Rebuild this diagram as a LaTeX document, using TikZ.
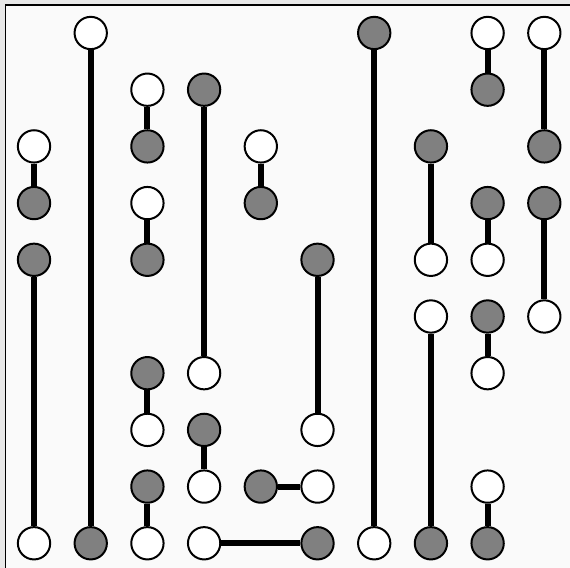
\documentclass[tikz,border=0pt]{standalone}
\definecolor{paper}{RGB}{250,250,250}
\definecolor{margin}{RGB}{232,232,232}
\tikzset{
    open/.style={
        draw,
        circle,
        fill=white,
        line width=1pt,
        inner sep=0pt,
        minimum size=.57cm
    },
    full/.style={
        open,
        fill=gray
    }
}
\begin{document}
\begin{tikzpicture}[y=-1cm]
		\useasboundingbox[fill=margin] (-0.6,-0.582) rectangle (9.453,9.436);
		\fill[paper] (-0.503,-0.485) rectangle (9.453,9.436);
		\draw[line width=1pt] (-0.503,9.436) -- (-0.503,-0.485) -- (9.453,-0.485);
		\path
			node[open] at (1,0) (b0) {}
			node[full] at (6,0) (g0) {}
			node[open] at (8,0) (i0) {}
			node[open] at (9,0) (j0) {}
			;
		\path
			node[open] at (2,1) (c1) {}
			node[full] at (3,1) (d1) {}
			node[full] at (8,1) (i1) {}
			;
		\path
			node[open] at (0,2) (a2) {}
			node[full] at (2,2) (c2) {}
			node[open] at (4,2) (e2) {}
			node[full] at (7,2) (h2) {}
			node[full] at (9,2) (j2) {}
			;
		\path
			node[full] at (0,3) (a3) {}
			node[open] at (2,3) (c3) {}
			node[full] at (4,3) (e3) {}
			node[full] at (8,3) (i3) {}
			node[full] at (9,3) (j3) {}
			;
		\path
			node[full] at (0,4) (a4) {}
			node[full] at (2,4) (c4) {}
			node[full] at (5,4) (f4) {}
			node[open] at (7,4) (h4) {}
			node[open] at (8,4) (i4) {}
			;
		\path
			node[open] at (7,5) (h5) {}
			node[full] at (8,5) (i5) {}
			node[open] at (9,5) (j5) {}
			;
		\path
			node[full] at (2,6) (c6) {}
			node[open] at (3,6) (d6) {}
			node[open] at (8,6) (i6) {}
			;
		\path
			node[open] at (2,7) (c7) {}
			node[full] at (3,7) (d7) {}
			node[open] at (5,7) (f7) {}
			;
		\path
			node[full] at (2,8) (c8) {}
			node[open] at (3,8) (d8) {}
			node[full] at (4,8) (e8) {}
			node[open] at (5,8) (f8) {}
			node[open] at (8,8) (i8) {}
			;
		\path 	(0,9)
					node[open](a9){}
			++(1,0) node[full](b9){}
			++(1,0) node[open](c9){}
			++(1,0) node[open](d9){}
			++(2,0) node[full](f9){}
			++(1,0) node[open](g9){}
			++(1,0) node[full](h9){}
			++(1,0) node[full](i9){}
			;
		% long bars
		\path [line width=3pt]
			(b0) edge (b9)
			(g0) edge (g9)
			(d1) edge (d6)
			(a4) edge (a9)
			(f4) edge (f7)
			(h5) edge (h9)
			(h2) edge (h4)
			(j3) edge (j5)
			(j0) edge (j2)
			;
		% short bars
		\path [line width=3pt]
			(i0) edge (i1)
			(c1) edge (c2)
			(a2) edge (a3)
			(e2) edge (e3)
			(c3) edge (c4)
			(i3) edge (i4)
			(i5) edge (i6)
			(c6) edge (c7)
			(d7) edge (d8)
			(c8) edge (c9)
			(i8) edge (i9)
			(e8) edge (f8)
			(d9) edge (f9)
			;
\end{tikzpicture}
\end{document}
